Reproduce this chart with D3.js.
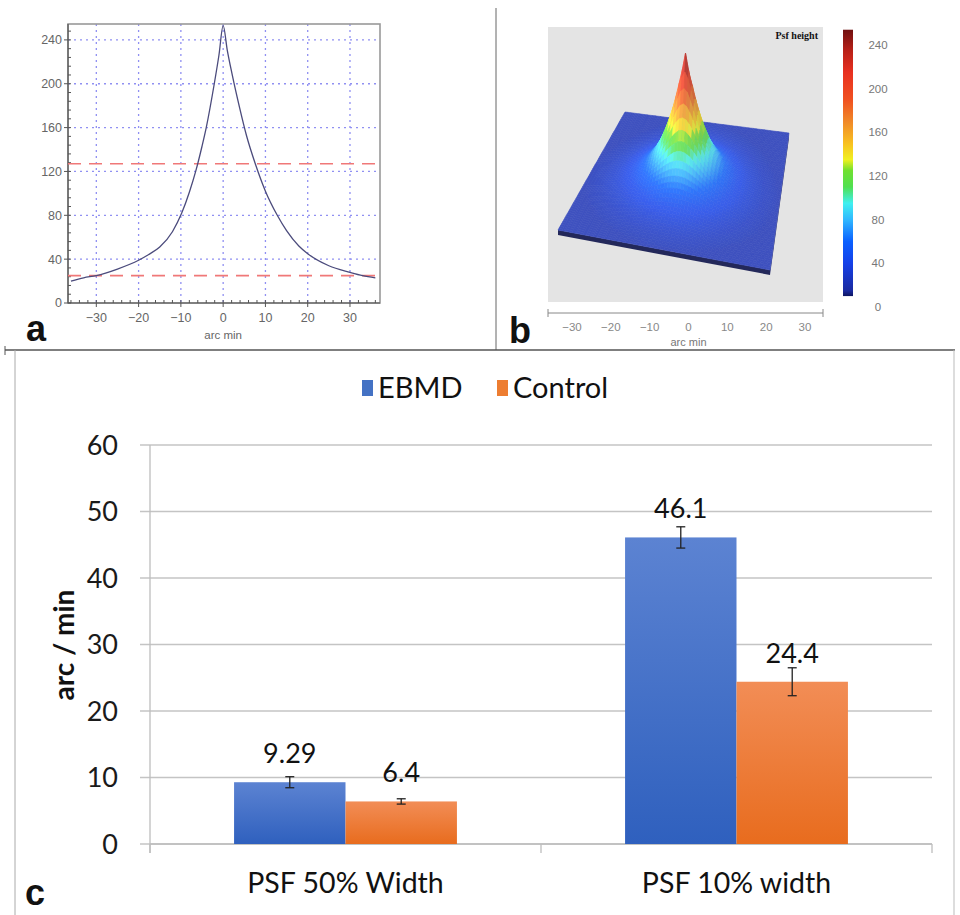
<!DOCTYPE html>
<html>
<head>
<meta charset="utf-8">
<script src="https://cdn.jsdelivr.net/npm/d3@7"></script>
<style>
  html, body { margin: 0; padding: 0; background: #ffffff; }
  svg { display: block; }
</style>
</head>
<body>
<svg id="fig" width="960" height="915"></svg>
<script>
// ---------------- DATA ----------------
// Panel a: PSF profile (arc min vs. height)
const profileX = [-36, -33, -30, -25, -20, -17.7, -15, -12, -9.8, -8, -6.5, -5, -4, -2.1, -1, 0,
                  1, 2.1, 3.9, 5.5, 7.6, 10, 12.8, 15, 17.9, 20, 25, 30, 33, 36];
const profileY = [20, 23, 25, 31, 39, 44, 51, 65, 82, 101, 120, 143, 160, 200, 226, 253,
                  230, 209, 178, 153, 127, 102, 80, 66, 52, 45, 34, 28, 25, 23];
const aXTicks = [-30, -20, -10, 0, 10, 20, 30];
const aYTicks = [0, 40, 80, 120, 160, 200, 240];
const levelLines = [127, 25];          // 50% and 10% levels (dashed red)

// Panel b: colour bar ticks and axis ticks
const colorbarTicks = [0, 40, 80, 120, 160, 200, 240];
const bXTicks = [-30, -20, -10, 0, 10, 20, 30];

// Panel c: bar chart
const categories = ["PSF 50% Width", "PSF 10% width"];
const seriesNames = ["EBMD", "Control"];
const ebmdValues = [9.29, 46.1];
const controlValues = [6.4, 24.4];
const ebmdErrors = [0.83, 1.6];
const controlErrors = [0.4, 2.1];
const cYTicks = [0, 10, 20, 30, 40, 50, 60];

// ---------------- SETUP ----------------
const svg = d3.select("#fig");
const defs = svg.append("defs");
const sans = "'Liberation Sans', Arial, sans-serif";
const cfont = "Lato, 'Noto Sans', sans-serif";

// frame / divider lines
svg.append("line").attr("x1", 496).attr("x2", 496).attr("y1", 8).attr("y2", 350)
  .attr("stroke", "#666").attr("stroke-width", 1);
svg.append("line").attr("x1", 5).attr("x2", 955).attr("y1", 350).attr("y2", 350)
  .attr("stroke", "#555").attr("stroke-width", 1.5);
svg.append("line").attr("x1", 5).attr("x2", 5).attr("y1", 346).attr("y2", 355)
  .attr("stroke", "#555").attr("stroke-width", 1);
svg.append("line").attr("x1", 15).attr("x2", 15).attr("y1", 350).attr("y2", 915)
  .attr("stroke", "#aaa").attr("stroke-width", 1);
svg.append("line").attr("x1", 954).attr("x2", 954).attr("y1", 350).attr("y2", 915)
  .attr("stroke", "#bbb").attr("stroke-width", 1);

// ---------------- PANEL A ----------------
(function panelA() {
  const g = svg.append("g");
  const L = 68, R = 380, T = 24, B = 303;
  const x = d3.scaleLinear().domain([-36.7, 37.1]).range([L, R]);
  const y = d3.scaleLinear().domain([0, 254.5]).range([B, T]);

  // dotted grid
  g.selectAll(".vg").data(aXTicks).join("line")
    .attr("x1", d => x(d)).attr("x2", d => x(d)).attr("y1", T).attr("y2", B)
    .attr("stroke", "#9090f2").attr("stroke-width", 1.3).attr("stroke-dasharray", "2,4");
  g.selectAll(".hg").data(aYTicks.filter(d => d > 0)).join("line")
    .attr("x1", L).attr("x2", R).attr("y1", d => y(d)).attr("y2", d => y(d))
    .attr("stroke", "#9090f2").attr("stroke-width", 1.3).attr("stroke-dasharray", "2,4");

  // frame
  g.append("rect").attr("x", L).attr("y", T).attr("width", R - L).attr("height", B - T)
    .attr("fill", "none").attr("stroke", "#999").attr("stroke-width", 1.6);
  g.append("line").attr("x1", L).attr("x2", L).attr("y1", T).attr("y2", B)
    .attr("stroke", "#555").attr("stroke-width", 1.2);
  g.append("line").attr("x1", L).attr("x2", R).attr("y1", B).attr("y2", B)
    .attr("stroke", "#555").attr("stroke-width", 1.2);

  // minor ticks
  const minorY = d3.range(0, 255, 8);
  g.selectAll(".my").data(minorY).join("line")
    .attr("x1", L).attr("x2", L + 3).attr("y1", d => y(d)).attr("y2", d => y(d))
    .attr("stroke", "#555").attr("stroke-width", 1);
  const minorX = d3.range(-36, 37, 2);
  g.selectAll(".mx").data(minorX).join("line")
    .attr("x1", d => x(d)).attr("x2", d => x(d)).attr("y1", B).attr("y2", B - 3)
    .attr("stroke", "#555").attr("stroke-width", 1);
  // major ticks
  g.selectAll(".My").data(aYTicks).join("line")
    .attr("x1", L - 4).attr("x2", L).attr("y1", d => y(d)).attr("y2", d => y(d))
    .attr("stroke", "#555").attr("stroke-width", 1);
  g.selectAll(".Mx").data(aXTicks).join("line")
    .attr("x1", d => x(d)).attr("x2", d => x(d)).attr("y1", B).attr("y2", B + 4)
    .attr("stroke", "#555").attr("stroke-width", 1);

  // labels
  const fmt = d3.format("d");
  g.selectAll(".yl").data(aYTicks).join("text")
    .attr("x", L - 6).attr("y", d => y(d)).attr("dy", "0.35em")
    .attr("text-anchor", "end").attr("font-family", sans).attr("font-size", 12.5)
    .attr("fill", "#666").text(d => fmt(d));
  g.selectAll(".xl").data(aXTicks).join("text")
    .attr("x", d => x(d)).attr("y", 322)
    .attr("text-anchor", "middle").attr("font-family", sans).attr("font-size", 12.5)
    .attr("fill", "#666").text(d => fmt(d));
  g.append("text").attr("x", x(0)).attr("y", 339).attr("text-anchor", "middle")
    .attr("font-family", sans).attr("font-size", 11.5).attr("fill", "#666").text("arc min");

  // dashed level lines
  g.selectAll(".lv").data(levelLines).join("line")
    .attr("x1", L).attr("x2", R).attr("y1", d => y(d)).attr("y2", d => y(d))
    .attr("stroke", "#f07878").attr("stroke-width", 1.6).attr("stroke-dasharray", "13,8");

  // profile curve
  const line = d3.line().x((d, i) => x(profileX[i])).y(d => y(d)).curve(d3.curveMonotoneX);
  g.append("path").attr("d", line(profileY)).attr("fill", "none")
    .attr("stroke", "#4b4b7c").attr("stroke-width", 1.3);

  g.append("text").attr("x", 26).attr("y", 341).attr("font-family", sans)
    .attr("font-weight", "bold").attr("font-size", 36).attr("fill", "#111").text("a");
})();

// ---------------- PANEL B ----------------
const cmapStops = [0, 15, 40, 60, 80, 95, 110, 125, 135, 150, 170, 190, 215, 235, 255];
const cmapColors = ["#0c1560", "#1a2aa0", "#1540e8", "#0a60ff", "#30b8ff", "#40f0f0", "#50e050",
                    "#70e030", "#f0f020", "#f8c020", "#f08828", "#f05020", "#e83020", "#b82018", "#701010"];
(function panelB() {
  const g = svg.append("g");
  const cmap = d3.scaleLinear().domain(cmapStops).range(cmapColors)
    .interpolate(d3.interpolateRgb).clamp(true);

  // grey background
  g.append("rect").attr("x", 548).attr("y", 27).attr("width", 275).attr("height", 275)
    .attr("fill", "#e4e4e4");
  g.append("text").attr("x", 818).attr("y", 39).attr("text-anchor", "end")
    .attr("font-family", "'Liberation Serif', 'DejaVu Serif', serif").attr("font-weight", "bold")
    .attr("font-size", 10).attr("fill", "#111").text("Psf height");

  // surface built from the radial profile of panel a
  const prof = d3.scaleLinear().domain(profileX).range(profileY).clamp(true);
  const height = r => (prof(r) + prof(-r)) / 2;
  const hBase = height(36);
  const FL = [558, 230], FR = [770, 270], BL = [625, 112], BR = [789, 133];
  const su = d3.scaleLinear().domain([-36, 36]).range([0, 1]);
  const kH = 0.575;
  function proj(u, v, h) {
    const s = su(u), t = su(v);
    const px = (1 - s) * (1 - t) * FL[0] + s * (1 - t) * FR[0] + (1 - s) * t * BL[0] + s * t * BR[0];
    const py = (1 - s) * (1 - t) * FL[1] + s * (1 - t) * FR[1] + (1 - s) * t * BL[1] + s * t * BR[1];
    return [px, py - kH * (h - hBase)];
  }
  // plate thickness
  const th = 5;
  g.append("polygon").attr("points", [FL, FR, [FR[0], FR[1] + th], [FL[0], FL[1] + th]].join(" "))
    .attr("fill", "#23285a");
  g.append("polygon").attr("points", [BR, FR, [FR[0], FR[1] + th], [BR[0], BR[1] + th]].join(" "))
    .attr("fill", "#2b3170");

  const step = 1.2;
  const us = d3.range(-36, 36.001, step);
  const quads = [];
  for (let i = 0; i < us.length - 1; i++) {
    for (let j = 0; j < us.length - 1; j++) {
      const u0 = us[i], u1 = us[i + 1], v0 = us[j], v1 = us[j + 1];
      const corners = [[u0, v0], [u1, v0], [u1, v1], [u0, v1]];
      const hs = corners.map(c => height(Math.hypot(c[0], c[1])));
      const pts = corners.map((c, k) => proj(c[0], c[1], hs[k]));
      const hm = d3.mean(hs);
      const slope = ((hs[1] + hs[2]) - (hs[0] + hs[3])) / (2 * step);
      const shade = Math.max(-0.25, Math.min(0.2, slope * 0.012));
      const uc = (u0 + u1) / 2, vc = (v0 + v1) / 2;
      quads.push({ pts, hm, shade, key: vc - 0.18 * uc });
    }
  }
  quads.sort((a, b) => b.key - a.key);
  const quadColor = d => {
    const c = d3.color(d3.interpolateRgb(cmap(d.hm), "#ffffff")(0.16));
    return d.shade < 0 ? c.darker(-d.shade * 2).formatHex() : c.brighter(d.shade * 1.5).formatHex();
  };
  g.append("g").selectAll("polygon").data(quads).join("polygon")
    .attr("points", d => d.pts.map(p => p[0].toFixed(1) + "," + p[1].toFixed(1)).join(" "))
    .attr("fill", quadColor).attr("stroke", quadColor).attr("stroke-width", 0.6);

  // colour bar
  const cy = d3.scaleLinear().domain([0, 240]).range([307, 45]);
  const grad = defs.append("linearGradient").attr("id", "cbar")
    .attr("x1", 0).attr("y1", 1).attr("x2", 0).attr("y2", 0);
  const vLo = 10, vHi = 254;
  cmapStops.forEach((s, i) => {
    const off = Math.max(0, Math.min(1, (s - vLo) / (vHi - vLo)));
    grad.append("stop").attr("offset", off).attr("stop-color", cmapColors[i]);
  });
  g.append("rect").attr("x", 843).attr("y", cy(vHi)).attr("width", 10)
    .attr("height", cy(vLo) - cy(vHi)).attr("fill", "url(#cbar)");
  g.selectAll(".cl").data(colorbarTicks).join("text")
    .attr("x", 878).attr("y", d => cy(d)).attr("dy", "0.35em").attr("text-anchor", "middle")
    .attr("font-family", sans).attr("font-size", 11.5).attr("fill", "#777").text(d => d);

  // x axis
  const bx = d3.scaleLinear().domain([-30, 30]).range([572, 805]);
  g.append("line").attr("x1", 548).attr("x2", 823).attr("y1", 313).attr("y2", 313)
    .attr("stroke", "#888").attr("stroke-width", 1);
  [548, 823].forEach(xx => g.append("line").attr("x1", xx).attr("x2", xx)
    .attr("y1", 309).attr("y2", 317).attr("stroke", "#888").attr("stroke-width", 1));
  g.selectAll(".bxl").data(bXTicks).join("text")
    .attr("x", d => bx(d)).attr("y", 331).attr("text-anchor", "middle")
    .attr("font-family", sans).attr("font-size", 11.5).attr("fill", "#888")
    .text(d => d3.format("d")(d));
  g.append("text").attr("x", bx(0)).attr("y", 346).attr("text-anchor", "middle")
    .attr("font-family", sans).attr("font-size", 11).attr("fill", "#777").text("arc min");

  g.append("text").attr("x", 509).attr("y", 343).attr("font-family", sans)
    .attr("font-weight", "bold").attr("font-size", 36).attr("fill", "#111").text("b");
})();

// ---------------- PANEL C ----------------
(function panelC() {
  const g = svg.append("g");
  const L = 150, R = 932, B = 844, T = 445;
  const y = d3.scaleLinear().domain([0, 60]).range([B, T]);
  const x0 = d3.scaleBand().domain(categories).range([L, R]);
  const bw = x0.bandwidth();
  const gw = bw * 0.57;
  const x1 = d3.scaleBand().domain(seriesNames).range([(bw - gw) / 2, (bw + gw) / 2]);

  // gradients
  const gE = defs.append("linearGradient").attr("id", "gE").attr("x1", 0).attr("y1", 0).attr("x2", 0).attr("y2", 1);
  gE.append("stop").attr("offset", 0).attr("stop-color", "#5c83d2");
  gE.append("stop").attr("offset", 1).attr("stop-color", "#2f60be");
  const gC = defs.append("linearGradient").attr("id", "gC").attr("x1", 0).attr("y1", 0).attr("x2", 0).attr("y2", 1);
  gC.append("stop").attr("offset", 0).attr("stop-color", "#f28d56");
  gC.append("stop").attr("offset", 1).attr("stop-color", "#e86c1e");
  const fills = { EBMD: "url(#gE)", Control: "url(#gC)" };
  const legendFills = { EBMD: "#4472c4", Control: "#ed7d31" };

  // grid lines
  g.selectAll(".grid").data(cYTicks).join("line")
    .attr("x1", L - 10).attr("x2", R).attr("y1", d => y(d)).attr("y2", d => y(d))
    .attr("stroke", "#c4c4c4").attr("stroke-width", 1.3);
  // axis lines and category ticks
  g.append("line").attr("x1", L).attr("x2", L).attr("y1", T).attr("y2", B + 9)
    .attr("stroke", "#bdbdbd").attr("stroke-width", 1.3);
  g.selectAll(".ct").data([L, x0(categories[1]), R]).join("line")
    .attr("x1", d => d).attr("x2", d => d).attr("y1", B).attr("y2", B + 9)
    .attr("stroke", "#bdbdbd").attr("stroke-width", 1.3);
  g.append("line").attr("x1", L).attr("x2", R).attr("y1", B).attr("y2", B)
    .attr("stroke", "#bdbdbd").attr("stroke-width", 1.3);

  // y tick labels
  g.selectAll(".yl").data(cYTicks).join("text")
    .attr("x", 118).attr("y", d => y(d)).attr("dy", "0.36em").attr("text-anchor", "end")
    .attr("font-family", cfont).attr("font-size", 27).attr("fill", "#1a1a1a").text(d => d);
  // y title
  g.append("text").attr("transform", "translate(74,645) rotate(-90)").attr("text-anchor", "middle")
    .attr("font-family", cfont).attr("font-weight", "bold").attr("font-size", 28)
    .attr("fill", "#111").text("arc / min");

  // bars
  const rows = categories.map((c, i) => ({
    cat: c,
    items: [
      { s: "EBMD", v: ebmdValues[i], e: ebmdErrors[i] },
      { s: "Control", v: controlValues[i], e: controlErrors[i] }
    ]
  }));
  const grp = g.selectAll(".grp").data(rows).join("g")
    .attr("transform", d => `translate(${x0(d.cat)},0)`);
  grp.selectAll("rect").data(d => d.items).join("rect")
    .attr("x", d => x1(d.s)).attr("width", x1.bandwidth())
    .attr("y", d => y(d.v)).attr("height", d => y(0) - y(d.v))
    .attr("fill", d => fills[d.s]);
  // error bars
  const cx = d => x1(d.s) + x1.bandwidth() / 2;
  const eb = grp.selectAll(".eb").data(d => d.items).join("g");
  eb.append("line").attr("x1", cx).attr("x2", cx)
    .attr("y1", d => y(d.v + d.e)).attr("y2", d => y(d.v - d.e))
    .attr("stroke", "#222").attr("stroke-width", 1.3);
  eb.append("line").attr("x1", d => cx(d) - 4.5).attr("x2", d => cx(d) + 4.5)
    .attr("y1", d => y(d.v + d.e)).attr("y2", d => y(d.v + d.e))
    .attr("stroke", "#222").attr("stroke-width", 1.3);
  eb.append("line").attr("x1", d => cx(d) - 4.5).attr("x2", d => cx(d) + 4.5)
    .attr("y1", d => y(d.v - d.e)).attr("y2", d => y(d.v - d.e))
    .attr("stroke", "#222").attr("stroke-width", 1.3);
  // value labels
  grp.selectAll(".vl").data(d => d.items).join("text")
    .attr("x", cx).attr("y", d => y(d.v) - 19)
    .attr("text-anchor", "middle").attr("font-family", cfont).attr("font-size", 27)
    .attr("fill", "#111").text(d => String(d.v));

  // category labels
  g.selectAll(".cat").data(categories).join("text")
    .attr("x", d => x0(d) + bw / 2).attr("y", 893).attr("text-anchor", "middle")
    .attr("font-family", cfont).attr("font-size", 28.5).attr("fill", "#111").text(d => d);

  // legend
  const leg = g.append("g");
  const legX = [362, 497];
  seriesNames.forEach((s, i) => {
    leg.append("rect").attr("x", legX[i]).attr("y", 380).attr("width", 11).attr("height", 16)
      .attr("fill", legendFills[s]);
    leg.append("text").attr("x", legX[i] + 16).attr("y", 388).attr("dy", "0.36em")
      .attr("font-family", cfont).attr("font-size", 29).attr("fill", "#111").text(s);
  });

  g.append("text").attr("x", 25).attr("y", 905).attr("font-family", sans)
    .attr("font-weight", "bold").attr("font-size", 36).attr("fill", "#111").text("c");
})();
</script>
</body>
</html>
